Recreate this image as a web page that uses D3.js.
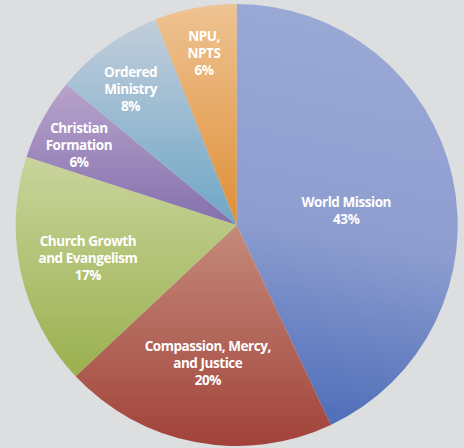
<!DOCTYPE html>
<html>
<head>
<meta charset="utf-8">
<script src="https://cdn.jsdelivr.net/npm/d3@7"></script>
<style>
  body { margin: 0; background: #dcdee0; }
  svg { display: block; }
  .slice-label { fill: #fff; font-family: "Open Sans", sans-serif; font-weight: 700; font-size: 13.5px; letter-spacing: -0.45px; }
</style>
</head>
<body>
<div id="chart"></div>
<script>
// data
const categories = ["World Mission", "Compassion, Mercy, and Justice", "Church Growth and Evangelism",
                    "Christian Formation", "Ordered Ministry", "NPU, NPTS"];
const values = [43, 20, 17, 6, 8, 6];
const labelLines = [
  ["World Mission"],
  ["Compassion, Mercy,", "and Justice"],
  ["Church Growth", "and Evangelism"],
  ["Christian", "Formation"],
  ["Ordered", "Ministry"],
  ["NPU,", "NPTS"]
];
// gradient colours, light (top) to dark (bottom)
const lightColors = ["#9ba9d6", "#c48b7b", "#c9d49c", "#b8a3cc", "#c2cedb", "#eec393"];
const darkColors  = ["#4e6db9", "#a2423a", "#9ab04e", "#8470ac", "#6ea6c6", "#df8f36"];

// label placement (fraction of radius, angle nudge in degrees)
const labelRadius = [0.50, 0.64, 0.69, 0.80, 0.78, 0.79];
const labelNudge = [5, 1, 0, -2, -2, 0];

const width = 464, height = 448;
const cx = 236.7, cy = 225, R = 221;

const svg = d3.select("#chart").append("svg")
    .attr("width", width)
    .attr("height", height);

const defs = svg.append("defs");
categories.forEach((c, i) => {
    const grad = defs.append("linearGradient")
        .attr("id", "grad" + i)
        .attr("x1", 0.5).attr("y1", 0)
        .attr("x2", i === 0 ? 0.4 : 0.5).attr("y2", 1);
    grad.append("stop").attr("offset", "0%").attr("stop-color", lightColors[i]);
    if (i === 0) grad.append("stop").attr("offset", "55%").attr("stop-color", "#8d9dcf");
    grad.append("stop").attr("offset", "100%").attr("stop-color", darkColors[i]);
});

const pie = d3.pie().sort(null).value(d => d);
const arcs = pie(values);
const arc = d3.arc().innerRadius(0).outerRadius(R);

const g = svg.append("g").attr("transform", `translate(${cx},${cy})`);

g.selectAll("path")
    .data(arcs)
    .join("path")
    .attr("d", arc)
    .attr("fill", (d, i) => `url(#grad${i})`);

// labels
const lineH = 16.8;
arcs.forEach((d, i) => {
    const mid = (d.startAngle + d.endAngle) / 2 + labelNudge[i] * Math.PI / 180;
    const r = R * labelRadius[i];
    const x = r * Math.sin(mid), y = -r * Math.cos(mid);
    const lines = labelLines[i].concat([values[i] + "%"]);
    const top = y - (lines.length - 1) * lineH / 2;
    const t = g.append("text")
        .attr("class", "slice-label")
        .attr("text-anchor", "middle");
    lines.forEach((ln, j) => {
        t.append("tspan")
            .attr("x", x)
            .attr("y", top + j * lineH)
            .attr("dy", "0.35em")
            .text(ln);
    });
});
</script>
</body>
</html>
